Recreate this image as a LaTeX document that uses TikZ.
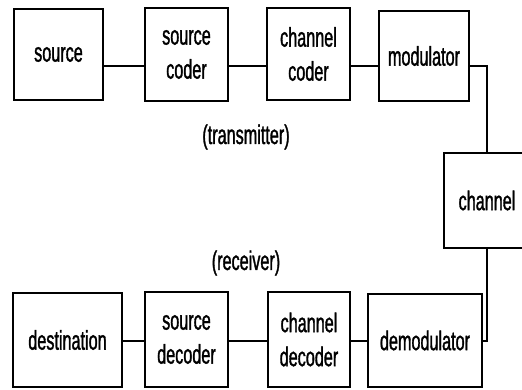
\documentclass[tikz,border=0pt]{standalone}
\usepackage{fontspec}
\setmainfont{Liberation Sans}[FakeStretch=0.6, FakeBold=1.2]
\begin{document}
\begin{tikzpicture}[x=1pt,y=1pt,
  blk/.style={draw, line width=2.3pt, inner sep=0pt, align=center,
    font=\fontsize{27}{34}\selectfont},
  lbl/.style={inner sep=0pt, font=\fontsize{27}{34}\selectfont},
  wire/.style={line width=2.8pt}]
\useasboundingbox (0,0) rectangle (522,389);
\clip (0,0) rectangle (522,389);
\fill[white] (0,0) rectangle (522,389);
% transmitter row
\node[blk, minimum width=89pt, minimum height=91pt] (source) at (58.5,334.5) {source};
\node[blk, minimum width=83pt, minimum height=93pt] (scoder) at (186.5,334.5) {source\\coder};
\node[blk, minimum width=83pt, minimum height=92pt] (ccoder) at (308.5,335) {channel\\coder};
\node[blk, minimum width=90pt, minimum height=90pt] (mod) at (424,333) {modulator};
% channel
\node[blk, minimum width=86pt, minimum height=95pt] (channel) at (487,188.5) {channel};
% receiver row
\node[blk, minimum width=109pt, minimum height=94pt] (dest) at (67.5,49) {destination};
\node[blk, minimum width=83pt, minimum height=95pt] (sdec) at (186.5,49.5) {source\\decoder};
\node[blk, minimum width=82pt, minimum height=95pt] (cdec) at (309,49.5) {channel\\decoder};
\node[blk, minimum width=114pt, minimum height=93pt] (demod) at (425,48.5) {demodulator};
% labels
\node[lbl] (tx) at (246,252) {(transmitter)};
\node[lbl] (rx) at (246,126) {(receiver)};
% connectors
\coordinate (tl) at (0,323);
\coordinate (bl) at (0,48);
\draw[wire] (source.east |- tl) -- (scoder.west |- tl);
\draw[wire] (scoder.east |- tl) -- (ccoder.west |- tl);
\draw[wire] (ccoder.east |- tl) -- (mod.west |- tl);
\draw[wire] (mod.east |- tl) -| (channel.north);
\draw[wire] (dest.east |- bl) -- (sdec.west |- bl);
\draw[wire] (sdec.east |- bl) -- (cdec.west |- bl);
\draw[wire] (cdec.east |- bl) -- (demod.west |- bl);
\draw[wire] (demod.east |- bl) -| (channel.south);
\end{tikzpicture}
\end{document}
